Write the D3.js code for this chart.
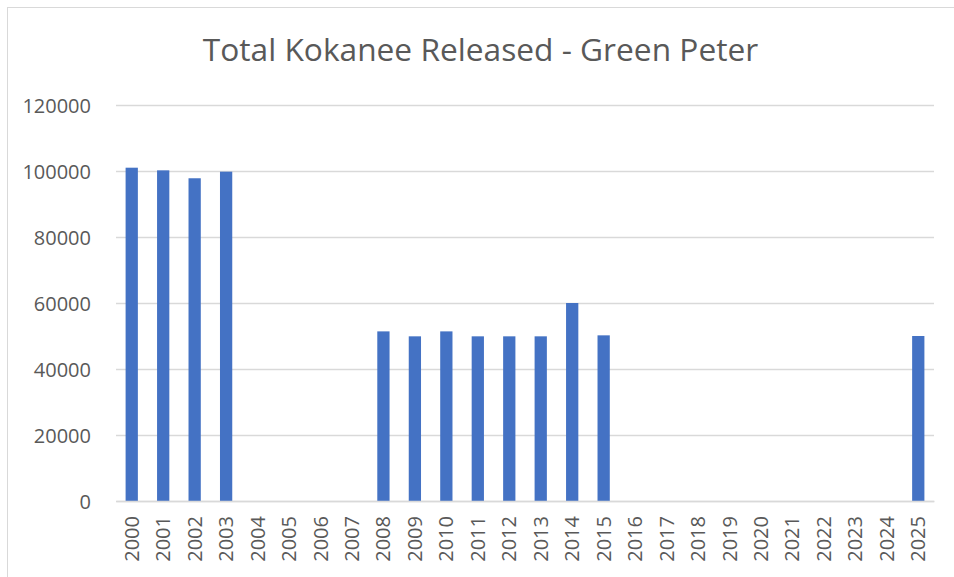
<!DOCTYPE html>
<html>
<head>
<meta charset="utf-8">
<script src="https://cdn.jsdelivr.net/npm/d3@7"></script>
<style>
  html, body { margin: 0; padding: 0; background: #fff; }
  svg { display: block; }
  text { font-family: "Open Sans", "Liberation Sans", sans-serif; fill: #595959; }
</style>
</head>
<body>
<svg id="chart" width="954" height="577"></svg>
<script>
const chartTitle = "Total Kokanee Released - Green Peter";
const years = ["2000","2001","2002","2003","2004","2005","2006","2007","2008","2009","2010","2011","2012","2013","2014","2015","2016","2017","2018","2019","2020","2021","2022","2023","2024","2025"];
const released = [101000,100200,97800,99800,null,null,null,null,51400,49900,51400,49900,49900,49900,60000,50200,null,null,null,null,null,null,null,null,null,50000];
const yTicks = [0,20000,40000,60000,80000,100000,120000];

const svg = d3.select("#chart");
const W = 954, H = 577;
const margin = {left: 116, right: 20, top: 105, bottom: 76};

// chart border
svg.append("rect")
  .attr("x", 7.5).attr("y", 7.5)
  .attr("width", W + 10).attr("height", H + 10)
  .attr("fill", "#fff").attr("stroke", "#d9d9d9").attr("stroke-width", 1);

const x = d3.scaleBand()
  .domain(years)
  .range([margin.left, W - margin.right])
  .paddingInner(0.61)
  .paddingOuter(0.305);

const y = d3.scaleLinear()
  .domain([0, 120000])
  .range([H - margin.bottom, margin.top]);

// gridlines
const yAxis = d3.axisLeft(y).tickValues(yTicks).tickSize(-(W - margin.right - margin.left)).tickPadding(25).tickFormat(d3.format("d"));
const gy = svg.append("g").attr("transform", `translate(${margin.left},0)`).call(yAxis);
gy.select(".domain").remove();
gy.selectAll(".tick line").attr("stroke", "#d9d9d9").attr("stroke-width", 1.3);
gy.selectAll(".tick text").attr("font-size", "20px").attr("fill", "#595959").attr("dy", "0.35em");

// bars
svg.append("g").selectAll("rect")
  .data(years.map((yr, i) => ({yr, v: released[i]})).filter(d => d.v != null))
  .join("rect")
  .attr("x", d => x(d.yr))
  .attr("width", x.bandwidth())
  .attr("y", d => y(d.v))
  .attr("height", d => y(0) - y(d.v))
  .attr("fill", "#4472c4");

// x axis
const xAxis = d3.axisBottom(x).tickSize(0).tickPadding(0);
const gx = svg.append("g").attr("transform", `translate(0,${y(0)})`).call(xAxis);
gx.select(".domain").attr("stroke", "#d9d9d9").attr("stroke-width", 1.3);
gx.selectAll(".tick text")
  .attr("font-size", "20px")
  .attr("fill", "#595959")
  .attr("text-anchor", "end")
  .attr("transform", "rotate(-90)")
  .attr("x", -15)
  .attr("y", 0)
  .attr("dy", "0.35em");

// title
svg.append("text")
  .attr("x", 480.5).attr("y", 61)
  .attr("text-anchor", "middle")
  .attr("font-size", "31.7px")
  .attr("fill", "#595959")
  .text(chartTitle);
</script>
</body>
</html>
